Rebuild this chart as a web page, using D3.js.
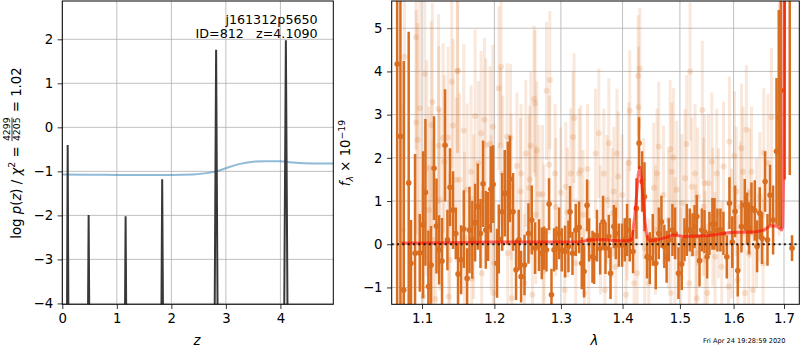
<!DOCTYPE html>
<html><head><meta charset="utf-8">
<script src="https://cdn.jsdelivr.net/npm/d3@7"></script>
<style>
html,body{margin:0;padding:0;background:#fff;}
svg{display:block;font-family:"DejaVu Sans",sans-serif;}
text{white-space:pre;}
</style></head><body>
<svg id="c" width="800" height="350"></svg>
<script>
// ---------- LEFT PANEL DATA ----------
const zTicks = [0, 1, 2, 3, 4];
const logpTicks = [-4, -3, -2, -1, 0, 1, 2];
// log p(z) curve (narrow peaks; values outside peaks far below axis)
const pzZ    = [0, 0.084, 0.099, 0.114, 0.468, 0.483, 0.498, 1.146, 1.161, 1.176, 1.814, 1.832, 1.850, 2.791, 2.821, 2.851, 4.066, 4.100, 4.134, 4.97];
const pzLogp = [-5, -5, -0.40, -5, -5, -1.99, -5, -5, -2.02, -5, -5, -1.18, -5, -5, 1.76, -5, -5, 1.98, -5, -5];
// scaled chi2 curve
const chiZ = [0, 0.5, 1.0, 1.5, 2.0, 2.4, 2.65, 2.83, 3.02, 3.26, 3.5, 3.75, 3.99, 4.24, 4.6, 4.97];
const chiV = [-1.07, -1.075, -1.08, -1.08, -1.08, -1.07, -1.04, -1.0, -0.92, -0.83, -0.78, -0.77, -0.77, -0.80, -0.82, -0.82];

// ---------- RIGHT PANEL DATA ----------
const lamTicks = [1.1, 1.2, 1.3, 1.4, 1.5, 1.6, 1.7];
const fluxTicks = [-1, 0, 1, 2, 3, 4, 5];

const darkLam = [1.0676,1.0718,1.0761,1.0825,1.0855,1.0908,1.0970,1.1014,1.1045,1.1085,1.1120,1.1160,1.1193,1.1228,1.1268,1.1309,1.1341,1.1377,1.1418,1.1456,1.1487,1.1529,1.1567,1.1613,1.1646,1.1686,1.1725,1.1763,1.1801,1.1838,1.1877,1.1910,1.1948,1.1982,1.2039,1.2064,1.2112,1.2151,1.2195,1.2228,1.2273,1.2317,1.2357,1.2392,1.2443,1.2502,1.2552,1.2602,1.2662,1.2704,1.2739,1.2776,1.2816,1.2853,1.2893,1.2930,1.2971,1.3013,1.3065,1.3118,1.3144,1.3182,1.3234,1.3287,1.3330,1.3367,1.3415,1.3448,1.3503,1.3529,1.3576,1.3628,1.3676,1.3716,1.3771,1.3799,1.3854,1.3887,1.3937,1.3992,1.4037,1.4077,1.4122,1.4178,1.4236,1.4281,1.4333,1.4374,1.4419,1.4466,1.4518,1.4571,1.4623,1.4670,1.4722,1.4762,1.4801,1.4866,1.4913,1.4974,1.5033,1.5082,1.5124,1.5179,1.5229,1.5266,1.5308,1.5358,1.5400,1.5450,1.5498,1.5542,1.5598,1.5636,1.5692,1.5749,1.5806,1.5870,1.5921,1.5975,1.6029,1.6081,1.6152,1.6217,1.6262,1.6300,1.6348,1.6413,1.6459,1.6512,1.6558,1.6618,1.6666,1.6718,1.6779,1.6848,1.6894,1.6935,1.7016,1.7118,1.7165];
const darkFlux = [4.17,2.5,-1.06,1.42,-0.44,-0.21,-0.20,0.45,1.20,-0.98,-0.48,1.76,0.42,-0.13,-0.39,2.29,0.10,1.32,0.79,0.25,-0.69,-0.36,0.35,-0.79,0.33,0.10,0.50,0.87,0.25,1.40,0.33,0.41,1.27,1.39,-0.44,0.12,0.75,1.18,1.18,1.51,0.75,-0.59,0.10,-0.75,-0.48,0.25,0.56,-0.09,-0.02,-0.21,-0.09,-0.13,0.93,-1.17,-0.13,-0.09,0.25,-0.13,-0.17,-0.05,0.75,-0.21,0.33,0.39,-0.44,-0.63,0.90,0.10,-0.29,-0.32,0.20,-0.10,0.52,-0.09,0.18,-0.67,0.41,0.25,-0.02,-0.02,0.10,0.33,0.10,-0.17,0.83,2.34,1.45,1.10,-0.29,-0.32,0.10,-0.44,0.25,0.52,-0.05,-0.29,0.10,0.33,0.25,-0.67,-0.46,0.10,0.33,0.33,0.22,0.41,0.64,-0.38,0.33,0.29,-0.29,0.25,0.47,0.47,0.33,0.33,0.25,-0.29,0.95,0.05,0.76,-0.61,0.41,0.91,0.60,0.37,0.83,0.78,-0.05,0.72,0.14,1.45,0.10,1.14,0.56,2.15,2.92,3.56,7.0,6.5,-0.09];
const darkErr = [9,8,5.3,3.5,1.0,2.3,0.9,1.7,1.7,1.3,0.9,1.2,1.1,0.8,1.0,1.3,0.7,0.9,0.9,0.6,0.7,0.8,0.9,0.7,1.0,0.9,0.9,1.0,0.8,1.0,0.9,0.8,1.0,0.9,0.8,0.8,0.9,1.0,1.2,1.0,0.9,0.7,0.7,0.6,0.7,0.7,0.8,0.6,0.6,0.6,0.5,0.5,0.6,0.6,0.5,0.5,0.6,0.5,0.6,0.6,0.6,0.5,0.6,0.6,0.6,0.6,0.6,0.5,0.6,0.6,0.6,0.6,0.6,0.6,0.5,0.6,0.5,0.6,0.5,0.5,0.5,0.6,0.5,0.5,0.7,0.6,0.7,0.8,0.5,0.6,0.6,0.6,0.6,0.6,0.5,0.6,0.5,0.6,0.6,0.6,0.6,0.5,0.6,0.5,0.5,0.5,0.5,0.6,0.5,0.5,0.5,0.5,0.6,0.6,0.5,0.5,0.5,0.5,0.6,0.6,0.6,0.6,0.6,0.6,0.6,0.6,0.6,0.7,0.6,0.6,0.6,0.7,0.6,0.7,0.8,1.7,2.5,3.2,5.5,4.9,0.3];

const faintLam = [1.0921,1.0770,1.1036,1.0970,1.1138,1.1220,1.1400,1.1479,1.0925,1.1124,1.1418,1.1282,1.1350,1.0942,1.1224,1.1062,1.1298,1.1465,1.1093,1.0751,1.1237,1.1146,1.1373,1.1102,1.1359,1.1013,1.1179,1.1482,1.2097,1.2064,1.1567,1.1725,1.1857,1.1810,1.1977,1.1877,1.1938,1.2184,1.2234,1.2088,1.1668,1.1772,1.2330,1.2391,1.1507,1.1613,1.2382,1.2121,1.2243,1.1706,1.1953,1.1576,1.2195,1.2001,1.1819,1.1678,1.2441,1.2253,1.1984,1.2827,1.2776,1.2587,1.2602,1.3207,1.3191,1.2537,1.2628,1.2462,1.2816,1.2909,1.2522,1.3314,1.3422,1.3155,1.3287,1.2511,1.2662,1.2714,1.2997,1.3076,1.2920,1.3103,1.2613,1.3351,1.2739,1.3443,1.3234,1.2727,1.3060,1.2562,1.3371,1.4293,1.4264,1.4271,1.4122,1.3606,1.3771,1.4623,1.3553,1.3906,1.4105,1.3688,1.3926,1.4594,1.3853,1.3992,1.4535,1.4362,1.3742,1.3828,1.4078,1.3633,1.4564,1.4379,1.3886,1.4247,1.4449,1.4197,1.3705,1.4059,1.5184,1.5410,1.5124,1.4823,1.4884,1.5921,1.5807,1.5587,1.5276,1.5450,1.5680,1.5093,1.4854,1.4943,1.5215,1.5524,1.4706,1.5326,1.5033,1.5432,1.5712,1.4795,1.5606,1.4913,1.5289,1.5461,1.5647,1.5015,1.5774,1.5170,1.4836,1.5502,1.5902,1.5308,1.6249,1.6745,1.6152,1.6592,1.6017,1.6348,1.6183,1.6677,1.6314,1.6051,1.6512,1.6129,1.6446,1.5960,1.6294,1.6578,1.6083,1.6216,1.6380,1.6900];
const faintFlux = [4.79,4.34,3.94,3.15,3.29,3.13,3.76,4.02,2.82,2.76,2.75,2.46,2.47,2.42,2.28,1.76,1.91,1.49,0.79,0.33,1.03,0.10,-0.36,-0.56,-1.21,-1.21,-1.27,4.01,4.11,3.61,2.63,2.97,2.88,2.57,2.72,2.30,2.32,2.49,2.47,2.28,1.68,1.88,1.81,1.64,1.49,1.26,1.22,1.64,1.33,0.64,0.72,0.14,-0.21,-0.44,-0.67,-0.79,-0.90,-1.25,-1.13,3.80,3.55,3.36,3.26,2.92,2.48,2.28,2.17,2.10,1.84,1.64,1.50,1.71,1.74,1.64,1.64,1.30,1.16,1.16,1.20,1.33,0.86,0.74,0.68,0.68,0.25,-0.02,-0.44,-0.63,-1.06,-1.17,-1.13,4.07,3.90,3.17,3.09,2.57,2.34,2.26,2.10,2.10,1.88,1.64,1.57,1.64,1.22,1.14,1.31,1.06,1.03,0.72,0.56,0.33,0.33,-0.09,-0.52,-0.67,-0.90,-0.90,-1.06,-1.17,4.00,3.11,2.32,2.20,2.01,2.38,1.80,1.91,1.64,1.41,1.64,1.53,1.68,1.26,1.33,1.41,1.14,1.10,0.95,0.87,0.72,0.56,0.64,-0.05,-0.21,-0.36,-0.29,-0.75,-0.52,-0.90,-1.13,-1.13,-0.98,-1.25,2.65,2.94,2.22,2.12,2.04,1.68,1.68,1.88,1.18,1.22,1.10,0.87,0.49,0.25,-0.21,-0.44,-0.83,-1.13,-1.06,3.00];
const faintErr = [2.6,2.8,2.4,2.7,2.3,2.2,2.0,1.9,2.6,2.4,2.0,2.2,2.1,2.7,2.3,2.5,2.0,1.9,2.4,2.9,2.1,2.3,2.0,2.4,2.0,2.6,2.2,1.9,1.8,1.9,2.0,2.0,1.9,1.9,1.9,2.0,1.8,1.7,1.7,1.8,2.0,1.9,1.7,1.6,2.0,2.0,1.7,1.8,1.7,1.9,1.8,2.0,1.7,1.8,1.9,1.9,1.6,1.7,1.8,1.6,1.6,1.7,1.7,1.5,1.5,1.7,1.6,1.7,1.6,1.6,1.7,1.5,1.5,1.5,1.5,1.7,1.6,1.6,1.5,1.5,1.6,1.5,1.6,1.5,1.6,1.5,1.5,1.6,1.5,1.6,1.5,1.4,1.4,1.4,1.4,1.5,1.5,1.5,1.5,1.5,1.4,1.5,1.5,1.5,1.5,1.4,1.5,1.4,1.5,1.5,1.4,1.5,1.5,1.4,1.5,1.4,1.5,1.4,1.5,1.4,1.6,1.6,1.6,1.6,1.6,1.5,1.5,1.6,1.6,1.6,1.5,1.6,1.6,1.6,1.6,1.6,1.6,1.6,1.6,1.6,1.5,1.6,1.6,1.6,1.6,1.6,1.5,1.6,1.5,1.6,1.6,1.6,1.5,1.6,1.5,1.6,1.5,1.5,1.5,1.5,1.5,1.6,1.5,1.5,1.5,1.5,1.5,1.5,1.5,1.5,1.5,1.5,1.5,2.8];

const modelLam  = [1.0730,1.1000,1.1500,1.2000,1.2500,1.3000,1.3300,1.3459,1.3650,1.3787,1.3950,1.4107,1.4150,1.4178,1.4207,1.4236,1.4265,1.4293,1.4320,1.4350,1.4380,1.4408,1.4440,1.4466,1.4583,1.4759,1.4877,1.5058,1.5300,1.5548,1.5927,1.6200,1.6446,1.6600,1.6711,1.6848,1.6950,1.6975,1.6990,1.7005];
const modelFlux = [0.03,0.03,0.04,0.05,0.05,0.05,0.06,0.10,0.11,0.09,0.08,0.08,0.10,0.33,0.65,1.10,1.60,1.78,1.55,1.05,0.55,0.25,0.12,0.08,0.10,0.16,0.22,0.18,0.19,0.20,0.27,0.28,0.29,0.33,0.42,0.42,0.33,0.40,1.5,6.5];

const objName = "j161312p5650";
const objLine = "ID=812   z=4.1090";
const stamp = "Fri Apr 24 19:28:59 2020";

// ---------- DRAW ----------
const svg = d3.select("#c");
const FS = 13.3;
const GRID = "#b0b0b0";
const ORANGE = "#d96e20";

const L = {x0:62.3, x1:333.3, y0:1, y1:304.3};
const R = {x0:391.7, x1:799.3, y0:1, y1:304.3};

const xL = d3.scaleLinear().domain([0, 4.97]).range([L.x0, L.x1]);
const yL = d3.scaleLinear().domain([-4.02, 2.87]).range([L.y1, L.y0]);
const xR = d3.scaleLog().domain([1.0606, 1.7316]).range([R.x0, R.x1]);
const yR = d3.scaleLinear().domain([-1.39, 5.63]).range([R.y1, R.y0]);

const defs = svg.append("defs");
defs.append("clipPath").attr("id","clipL").append("rect")
  .attr("x",L.x0).attr("y",L.y0).attr("width",L.x1-L.x0).attr("height",L.y1-L.y0);
defs.append("clipPath").attr("id","clipR").append("rect")
  .attr("x",R.x0).attr("y",R.y0).attr("width",R.x1-R.x0).attr("height",R.y1-R.y0);

function grid(P, xs, ys, xt, yt){
  const g = svg.append("g").attr("stroke",GRID).attr("stroke-width",0.8);
  xt.forEach(v=>{ const x=xs(v); g.append("line").attr("x1",x).attr("x2",x).attr("y1",P.y0).attr("y2",P.y1); });
  yt.forEach(v=>{ const y=ys(v); g.append("line").attr("x1",P.x0).attr("x2",P.x1).attr("y1",y).attr("y2",y); });
}
grid(L, xL, yL, zTicks, logpTicks);
grid(R, xR, yR, lamTicks, fluxTicks);

// ---- left panel marks
const gL = svg.append("g").attr("clip-path","url(#clipL)");
gL.append("path").datum(d3.range(chiZ.length))
  .attr("d", d3.line().x(i=>xL(chiZ[i])).y(i=>yL(chiV[i])).curve(d3.curveMonotoneX))
  .attr("fill","none").attr("stroke","#1f77b4").attr("stroke-opacity",0.5).attr("stroke-width",2);
gL.append("path").datum(d3.range(pzZ.length))
  .attr("d", d3.line().x(i=>xL(pzZ[i])).y(i=>yL(pzLogp[i])))
  .attr("fill","none").attr("stroke","#383838").attr("stroke-width",2).attr("stroke-linejoin","miter");

// ---- right panel marks
const gR = svg.append("g").attr("clip-path","url(#clipR)");
const faint = d3.range(faintLam.length).map(i=>({l:faintLam[i], f:faintFlux[i], e:faintErr[i]}));
const dark = d3.range(darkLam.length).map(i=>({l:darkLam[i], f:darkFlux[i], e:darkErr[i]}));

const gF = gR.append("g");
gF.selectAll("line").data(faint).join("line")
  .attr("x1",d=>xR(d.l)).attr("x2",d=>xR(d.l))
  .attr("y1",d=>yR(d.f-d.e)).attr("y2",d=>yR(d.f+d.e))
  .attr("stroke",ORANGE).attr("stroke-opacity",0.16).attr("stroke-width",3);
gF.selectAll("circle").data(faint).join("circle")
  .attr("cx",d=>xR(d.l)).attr("cy",d=>yR(d.f)).attr("r",3)
  .attr("fill",ORANGE).attr("fill-opacity",0.18);

const gD = gR.append("g");
gD.selectAll("line").data(dark).join("line")
  .attr("x1",d=>xR(d.l)).attr("x2",d=>xR(d.l))
  .attr("y1",d=>yR(d.f-d.e)).attr("y2",d=>yR(d.f+d.e))
  .attr("stroke",ORANGE).attr("stroke-width",2.5);
gD.selectAll("circle").data(dark).join("circle")
  .attr("cx",d=>xR(d.l)).attr("cy",d=>yR(d.f)).attr("r",2.8)
  .attr("fill",ORANGE);

gR.append("path").datum(d3.range(modelLam.length))
  .attr("d", d3.line().x(i=>xR(modelLam[i])).y(i=>yR(modelFlux[i])))
  .attr("fill","none").attr("stroke","#ff0000").attr("stroke-opacity",0.55).attr("stroke-width",3)
  .attr("stroke-linejoin","round");

gR.append("line").attr("x1",R.x0).attr("x2",R.x1).attr("y1",yR(0)).attr("y2",yR(0))
  .attr("stroke","#000").attr("stroke-opacity",0.85).attr("stroke-width",2).attr("stroke-dasharray","2,3.3");

// ---- axes
function styleAxis(g){
  g.select(".domain").remove();
  g.selectAll(".tick line").attr("stroke","#000").attr("stroke-width",0.8);
  g.selectAll(".tick text").attr("font-size",FS).attr("fill","#000").attr("font-family","DejaVu Sans");
}
const fmtInt = d3.format("d");
const fmt1 = d3.format(".1f");
svg.append("g").attr("transform",`translate(0,${L.y1})`)
  .call(d3.axisBottom(xL).tickValues(zTicks).tickFormat(fmtInt).tickSize(4.7).tickPadding(4.5)).call(styleAxis);
svg.append("g").attr("transform",`translate(${L.x0},0)`)
  .call(d3.axisLeft(yL).tickValues(logpTicks).tickFormat(fmtInt).tickSize(4.7).tickPadding(4.5)).call(styleAxis);
svg.append("g").attr("transform",`translate(0,${R.y1})`)
  .call(d3.axisBottom(xR).tickValues(lamTicks).tickFormat(fmt1).tickSize(4.7).tickPadding(4.5)).call(styleAxis);
svg.append("g").attr("transform",`translate(${R.x0},0)`)
  .call(d3.axisLeft(yR).tickValues(fluxTicks).tickFormat(fmtInt).tickSize(4.7).tickPadding(4.5)).call(styleAxis);

// frames
[L,R].forEach(P=>{
  svg.append("rect").attr("x",P.x0).attr("y",P.y0).attr("width",P.x1-P.x0).attr("height",P.y1-P.y0)
    .attr("fill","none").attr("stroke","#000").attr("stroke-width",1);
});

// annotation
svg.append("text").attr("x",317.7).attr("y",24).attr("text-anchor","end").attr("font-size",12.7).text(objName);
svg.append("text").attr("x",317.7).attr("y",38).attr("text-anchor","end").attr("font-size",12.7).text(objLine);

// x labels
svg.append("text").attr("x",197).attr("y",345).attr("text-anchor","middle").attr("font-size",FS).attr("font-style","italic").text("z");
svg.append("text").attr("x",594.5).attr("y",345).attr("text-anchor","middle").attr("font-size",FS).attr("font-style","italic").text("λ");

// timestamp
svg.append("text").attr("x",744.3).attr("y",342.5).attr("text-anchor","middle").attr("font-size",6.6).text(stamp);

// left y label with fraction
(function(){
  const outer = svg.append("g").attr("transform","translate(20.7,153) rotate(-90)");
  const g = outer.append("g");
  const t1 = g.append("text").attr("font-size",FS);
  t1.append("tspan").text("log ");
  t1.append("tspan").attr("font-style","italic").text("p");
  t1.append("tspan").text("(");
  t1.append("tspan").attr("font-style","italic").text("z");
  t1.append("tspan").text(") / ");
  t1.append("tspan").attr("font-style","italic").text("χ");
  t1.append("tspan").attr("font-size",9.3).attr("dy",-5.5).text("2");
  t1.append("tspan").attr("dy",5.5).text(" = ");
  const w1 = t1.node().getComputedTextLength();
  const nf = 9.3;
  const num = g.append("text").attr("font-size",nf).attr("y",-10.5).text("4299");
  const den = g.append("text").attr("font-size",nf).attr("y",-0.5).text("4205");
  const wn = Math.max(num.node().getComputedTextLength(), den.node().getComputedTextLength());
  const fx = w1 + 1;
  num.attr("x",fx); den.attr("x",fx);
  g.append("line").attr("x1",fx).attr("x2",fx+wn).attr("y1",-8.7).attr("y2",-8.7).attr("stroke","#000").attr("stroke-width",0.8);
  const t3 = g.append("text").attr("font-size",FS).attr("x",fx+wn+1).text(" = 1.02");
  const w3 = t3.node().getComputedTextLength();
  const W = fx + wn + 1 + w3;
  g.attr("transform",`translate(${-W/2},0)`);
})();

// right y label
(function(){
  const g = svg.append("g").attr("transform","translate(350,153) rotate(-90)");
  const t = g.append("text").attr("font-size",FS).attr("text-anchor","middle");
  t.append("tspan").attr("font-style","italic").text("f");
  t.append("tspan").attr("font-style","italic").attr("font-size",9.3).attr("dy",3).text("λ");
  t.append("tspan").attr("dy",-3).text(" × 10");
  t.append("tspan").attr("font-size",9.3).attr("dy",-5.5).text("−19");
})();
</script>
</body></html>
